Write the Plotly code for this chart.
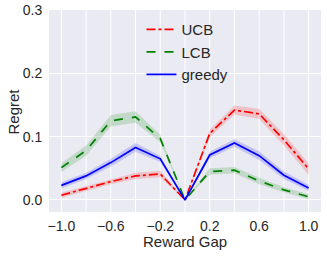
import plotly.graph_objects as go

x = [-1.0, -0.8, -0.6, -0.4, -0.2, 0.0, 0.2, 0.4, 0.6, 0.8, 1.0]
ucb = [0.0075, 0.018, 0.029, 0.038, 0.041, 0.0, 0.105, 0.142, 0.136, 0.095, 0.049]
ucb_err = [0.004, 0.004, 0.004, 0.005, 0.005, 0.0, 0.006, 0.007, 0.008, 0.009, 0.009]
lcb = [0.051, 0.078, 0.125, 0.131, 0.097, 0.0, 0.045, 0.047, 0.030, 0.016, 0.005]
lcb_err = [0.007, 0.008, 0.009, 0.009, 0.006, 0.0, 0.005, 0.005, 0.005, 0.004, 0.004]
greedy = [0.023, 0.038, 0.059, 0.083, 0.065, 0.0, 0.071, 0.090, 0.070, 0.039, 0.019]
greedy_err = [0.005, 0.005, 0.006, 0.007, 0.005, 0.0, 0.005, 0.006, 0.007, 0.006, 0.005]

x_ticks = [-1.0, -0.6, -0.2, 0.2, 0.6, 1.0]
x_ticktext = ["\u22121.0", "\u22120.6", "\u22120.2", "0.2", "0.6", "1.0"]
y_ticks = [0.0, 0.1, 0.2, 0.3]
y_ticktext = ["0.0", "0.1", "0.2", "0.3"]
x_grid = [-1.0, -0.8, -0.6, -0.4, -0.2, 0.0, 0.2, 0.4, 0.6, 0.8, 1.0]

series = [
    ("UCB", ucb, ucb_err, "red", "rgba(255,0,0,0.17)", "dashdot"),
    ("LCB", lcb, lcb_err, "green", "rgba(0,128,0,0.17)", "dash"),
    ("greedy", greedy, greedy_err, "blue", "rgba(0,0,255,0.17)", "solid"),
]

fig = go.Figure()
for name, y, e, col, fcol, dash in series:
    upper = [a + b for a, b in zip(y, e)]
    lower = [a - b for a, b in zip(y, e)]
    fig.add_trace(go.Scatter(
        x=x + x[::-1], y=upper + lower[::-1], fill="toself", fillcolor=fcol,
        line=dict(width=0), mode="lines", showlegend=False, hoverinfo="skip"))
for name, y, e, col, fcol, dash in series:
    fig.add_trace(go.Scatter(x=x, y=y, mode="lines", name=name,
                             line=dict(color=col, width=1.7, dash=dash)))

W, H = 327, 256
ml, mr, mt, mb = 49, 6, 10, 44
pw, ph = W - ml - mr, H - mt - mb

fig.update_layout(
    width=W, height=H,
    margin=dict(l=ml, r=mr, t=mt, b=mb, autoexpand=False),
    plot_bgcolor="#EAEAF2", paper_bgcolor="white",
    font=dict(family="Liberation Sans, Arial, sans-serif", size=14, color="#262626"),
    legend=dict(x=0.34, y=0.985, xanchor="left", yanchor="top",
                bgcolor="rgba(0,0,0,0)", font=dict(size=15)),
    showlegend=True,
    annotations=[
        dict(text="Reward Gap", x=0.5, xref="paper", y=(212 - 242) / ph, yref="paper",
             yanchor="middle", showarrow=False, font=dict(size=15)),
        dict(text="Regret", x=(13 - ml) / pw, xref="paper", y=(212 - 111.5) / ph,
             yref="paper", xanchor="center", yanchor="middle", showarrow=False,
             textangle=-90, font=dict(size=15)),
    ],
)

fig.update_xaxes(
    range=[-1.1, 1.1], tickvals=x_ticks, ticktext=x_ticktext,
    showgrid=False, zeroline=False, showline=False,
    ticks="outside", ticklen=1, tickcolor="rgba(0,0,0,0)", automargin=False,
)
fig.update_yaxes(
    range=[-0.019, 0.3], tickvals=y_ticks, ticktext=y_ticktext,
    gridcolor="white", gridwidth=1, zeroline=False, showline=False,
    ticks="outside", ticklen=3, tickcolor="rgba(0,0,0,0)", automargin=False,
)
for gx in x_grid:
    fig.add_shape(type="line", x0=gx, x1=gx, y0=0, y1=1, yref="paper",
                  line=dict(color="white", width=1), layer="below")

fig.write_html("out.html", config={"displayModeBar": False},
               post_script="document.body.style.margin='0px';")
